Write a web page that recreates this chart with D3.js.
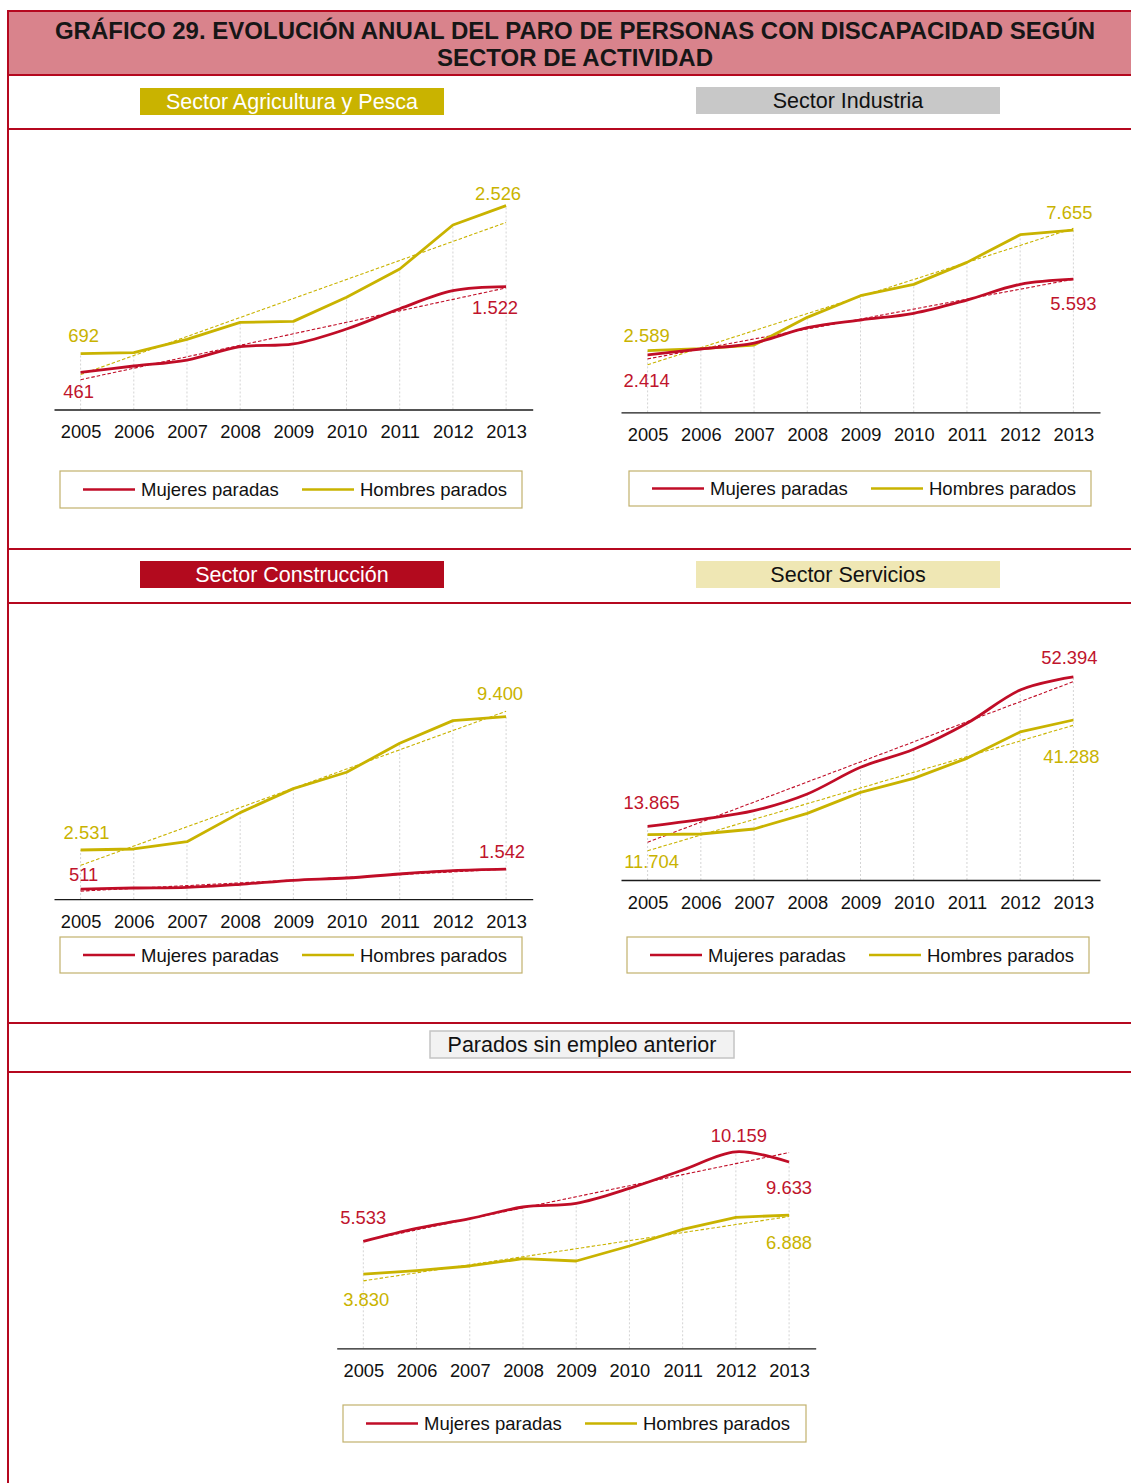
<!DOCTYPE html>
<html>
<head>
<meta charset="utf-8">
<script src="https://cdn.jsdelivr.net/npm/d3@7"></script>
<style>
  body { margin: 0; background: #fff; }
  svg { display: block; font-family: Arial, "Liberation Sans", sans-serif; }
</style>
</head>
<body>
<svg id="chart" width="1131" height="1483"></svg>
<script>
// ---------------- DATA ----------------
const years = [2005, 2006, 2007, 2008, 2009, 2010, 2011, 2012, 2013];
const seriesNames = ["Mujeres paradas", "Hombres parados"];

const agriMujeres = [461, 539, 613, 778, 812, 997, 1249, 1472, 1522];
const agriHombres = [692, 704, 869, 1080, 1092, 1390, 1741, 2286, 2526];

const indMujeres = [2414, 2661, 2913, 3556, 3878, 4158, 4717, 5375, 5593];
const indHombres = [2589, 2675, 2829, 3990, 4899, 5375, 6298, 7459, 7655];

const conMujeres = [511, 572, 606, 761, 967, 1087, 1294, 1465, 1542];
const conHombres = [2531, 2582, 2960, 4455, 5692, 6534, 8028, 9197, 9400];

const serMujeres = [13865, 15657, 17894, 22196, 29078, 33724, 40434, 49037, 52394];
const serHombres = [11704, 11872, 13163, 17206, 22626, 26239, 31401, 38197, 41288];

const sinMujeres = [5533, 6203, 6702, 7306, 7495, 8270, 9218, 10159, 9633];
const sinHombres = [3830, 4015, 4256, 4635, 4514, 5290, 6151, 6771, 6888];

const mainTitle = ["GRÁFICO 29. EVOLUCIÓN ANUAL DEL PARO DE PERSONAS CON DISCAPACIDAD SEGÚN", "SECTOR DE ACTIVIDAD"];
const sectorTitles = ["Sector Agricultura y Pesca", "Sector Industria", "Sector Construcción", "Sector Servicios", "Parados sin empleo anterior"];

// ---------------- STYLE / LAYOUT ----------------
const RED = "#c00d27", GOLD = "#c9b300", BORDER = "#b5081f";
const colors = [RED, GOLD];
const locale = d3.formatLocale({decimal: ",", thousands: ".", grouping: [3], currency: ["", " €"]});
const fmt = locale.format(",d");

const headerStyles = [
  {x: 140, y: 88, w: 304, h: 27, fill: "#c9b300", text: "#ffffff", stroke: "none"},
  {x: 696, y: 87, w: 304, h: 27, fill: "#c8c8c8", text: "#111111", stroke: "none"},
  {x: 140, y: 561, w: 304, h: 27, fill: "#b30a1e", text: "#ffffff", stroke: "none"},
  {x: 696, y: 561, w: 304, h: 27, fill: "#efe7b4", text: "#111111", stroke: "none"},
  {x: 430, y: 1031, w: 304, h: 27, fill: "#f2f2f2", text: "#111111", stroke: "#c4c4c4"}
];
const separators = [129, 549, 603, 1023, 1072];

// per-panel layout; label offsets are [seriesIdx, pointIdx, dx, dy]
const panels = [
  {m: agriMujeres, h: agriHombres, x0: 54, x1: 532.7, base: 409.5, top: 167.4, yMax: 3000,
   legend: {x: 60, y: 471, w: 462, h: 37},
   labels: [[1, 0, 3, -18], [0, 0, -2, 19], [1, 8, -8, -12], [0, 8, -11, 21]]},
  {m: indMujeres, h: indHombres, x0: 621, x1: 1100, base: 412.4, top: 198, yMax: 9000,
   legend: {x: 629, y: 471, w: 462, h: 35},
   labels: [[1, 0, -1, -15], [0, 0, -1, 25], [1, 8, -4, -18], [0, 8, 0, 24]]},
  {m: conMujeres, h: conHombres, x0: 54, x1: 532.7, base: 899.1, top: 666.2, yMax: 12000,
   legend: {x: 60, y: 937, w: 462, h: 36},
   labels: [[1, 0, 6, -18], [0, 0, 3, -15], [1, 8, -6, -23], [0, 8, -4, -18]]},
  {m: serMujeres, h: serHombres, x0: 621, x1: 1100, base: 880, top: 647.5, yMax: 60000,
   legend: {x: 627, y: 937, w: 462, h: 36},
   labels: [[0, 0, 4, -24], [1, 0, 4, 27], [0, 8, -4, -20], [1, 8, -2, 36]]},
  {m: sinMujeres, h: sinHombres, x0: 336.7, x1: 815.7, base: 1348.3, top: 1116.2, yMax: 12000,
   legend: {x: 343, y: 1405, w: 463, h: 37},
   labels: [[0, 0, 0, -24], [0, 7, 3, -16], [0, 8, 0, 25], [1, 0, 3, 25], [1, 8, 0, 27]]}
];

const svg = d3.select("#chart");

// ---------------- FRAME ----------------
svg.append("rect").attr("x", 8).attr("y", 11).attr("width", 1131).attr("height", 64)
  .attr("fill", "#d9838c");
svg.append("line").attr("x1", 8).attr("x2", 1131).attr("y1", 11).attr("y2", 11)
  .attr("stroke", BORDER).attr("stroke-width", 2);
svg.append("line").attr("x1", 8).attr("x2", 1131).attr("y1", 75).attr("y2", 75)
  .attr("stroke", BORDER).attr("stroke-width", 2);
svg.append("line").attr("x1", 8).attr("x2", 8).attr("y1", 10).attr("y2", 1483)
  .attr("stroke", BORDER).attr("stroke-width", 2);
separators.forEach(y => {
  svg.append("line").attr("x1", 8).attr("x2", 1131).attr("y1", y).attr("y2", y)
    .attr("stroke", BORDER).attr("stroke-width", 2);
});
svg.selectAll("text.title").data(mainTitle).join("text").attr("class", "title")
  .attr("x", 575).attr("y", (d, i) => 30 + i * 27).attr("dy", "0.36em")
  .attr("text-anchor", "middle").attr("font-size", 24).attr("font-weight", "bold")
  .attr("fill", "#161616").text(d => d);

// headers
sectorTitles.forEach((t, i) => {
  const s = headerStyles[i];
  svg.append("rect").attr("x", s.x).attr("y", s.y).attr("width", s.w).attr("height", s.h)
    .attr("fill", s.fill).attr("stroke", s.stroke).attr("stroke-width", 1.5);
  svg.append("text").attr("x", s.x + s.w / 2).attr("y", s.y + s.h / 2).attr("dy", "0.36em")
    .attr("text-anchor", "middle").attr("font-size", 21.5).attr("fill", s.text).text(t);
});

// ---------------- PANELS ----------------
function regression(vals) {
  const n = vals.length, xs = d3.range(n);
  const mx = d3.mean(xs), my = d3.mean(vals);
  const b = d3.sum(xs, (x, i) => (x - mx) * (vals[i] - my)) / d3.sum(xs, x => (x - mx) ** 2);
  const a = my - b * mx;
  return xs.map(x => a + b * x);
}

panels.forEach(p => {
  const g = svg.append("g");
  const x = d3.scalePoint().domain(years).range([p.x0, p.x1]).padding(0.5);
  const y = d3.scaleLinear().domain([0, p.yMax]).range([p.base, p.top]);
  const series = [p.m, p.h];

  // drop lines
  g.selectAll("line.drop").data(years).join("line").attr("class", "drop")
    .attr("x1", d => x(d)).attr("x2", d => x(d))
    .attr("y1", y(0)).attr("y2", (d, i) => y(Math.max(p.m[i], p.h[i])))
    .attr("stroke", "#d4d4d4").attr("stroke-width", 1).attr("stroke-dasharray", "2,2");

  // axis
  const ax = g.append("g").attr("transform", `translate(0,${y(0)})`)
    .call(d3.axisBottom(x).tickSize(0).tickSizeOuter(0).tickPadding(16));
  ax.select(".domain").attr("stroke", "#1a1a1a").attr("stroke-width", 1.3);
  ax.selectAll("text").attr("font-size", 18.3).attr("fill", "#111")
    .attr("font-family", 'Arial, "Liberation Sans", sans-serif');

  // trend lines
  series.forEach((vals, si) => {
    const tr = regression(vals);
    g.append("path").datum(tr)
      .attr("d", d3.line().x((d, i) => x(years[i])).y(d => y(d)))
      .attr("fill", "none").attr("stroke", colors[si]).attr("stroke-width", 1.1)
      .attr("stroke-dasharray", "3.5,2");
  });

  // main lines: Hombres straight, Mujeres smoothed
  g.append("path").datum(p.h)
    .attr("d", d3.line().x((d, i) => x(years[i])).y(d => y(d)))
    .attr("fill", "none").attr("stroke", GOLD).attr("stroke-width", 2.8)
    .attr("stroke-linejoin", "round");
  g.append("path").datum(p.m)
    .attr("d", d3.line().x((d, i) => x(years[i])).y(d => y(d)).curve(d3.curveCardinal.tension(0)))
    .attr("fill", "none").attr("stroke", RED).attr("stroke-width", 2.8);

  // data labels
  g.selectAll("text.lbl").data(p.labels).join("text").attr("class", "lbl")
    .attr("x", d => x(years[d[1]]) + d[2])
    .attr("y", d => y(series[d[0]][d[1]]) + d[3])
    .attr("dy", "0.36em").attr("text-anchor", "middle")
    .attr("font-size", 18.4).attr("fill", d => d[0] === 0 ? "#c0142c" : "#c9b300")
    .text(d => fmt(series[d[0]][d[1]]));

  // legend
  const L = p.legend;
  const lg = g.append("g").attr("transform", `translate(${L.x},${L.y})`);
  lg.append("rect").attr("width", L.w).attr("height", L.h)
    .attr("fill", "#fff").attr("stroke", "#c2b16d").attr("stroke-width", 1.2);
  const offs = [23, 242];
  seriesNames.forEach((name, i) => {
    lg.append("line").attr("x1", offs[i]).attr("x2", offs[i] + 52)
      .attr("y1", L.h / 2).attr("y2", L.h / 2)
      .attr("stroke", colors[i]).attr("stroke-width", 2.6);
    lg.append("text").attr("x", offs[i] + 58).attr("y", L.h / 2).attr("dy", "0.36em")
      .attr("font-size", 18.5).attr("fill", "#111").text(name);
  });
});
</script>
</body>
</html>
